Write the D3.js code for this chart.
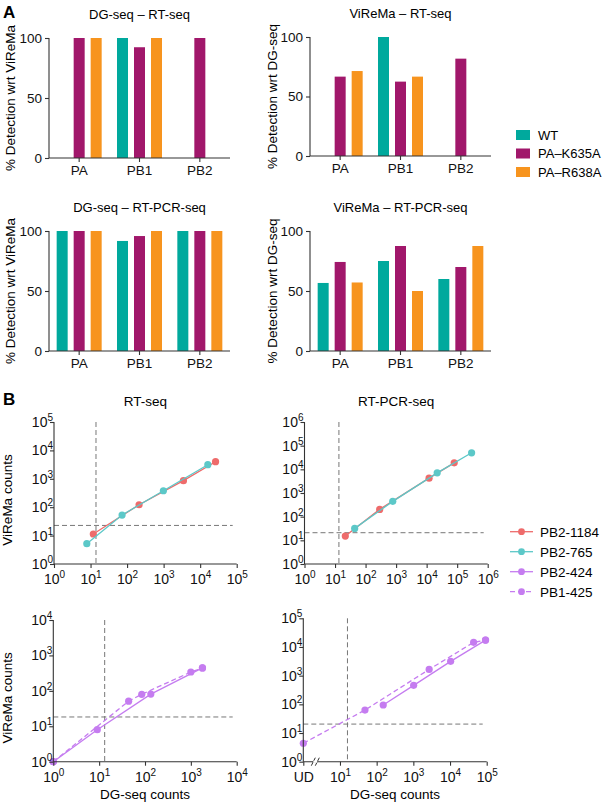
<!DOCTYPE html>
<html><head><meta charset="utf-8">
<script src="https://cdn.jsdelivr.net/npm/d3@7"></script>
<style>
body{margin:0;background:#fff;}
svg{font-family:"Liberation Sans",Arial,Helvetica,sans-serif;}
</style></head>
<body>
<svg id="c" width="602" height="805"></svg>
<script>
// ---------- DATA ----------
const segments = ["PA","PB1","PB2"];
const mutants = ["WT","PA–K635A","PA–R638A"];
const barColors = ["#00A99D","#A1176B","#F7941E"];
// values[segment][mutant]; null = no bar
const dgRtSeq      = [[null,100,100],[100,92.3,100],[null,100,null]];
const viremaRtSeq  = [[null,66.7,71.4],[100,62.5,66.7],[null,81.8,null]];
const dgRtPcrSeq   = [[100,100,100],[91.7,95.8,100],[100,100,100]];
const viremaRtPcr  = [[56.7,74.2,57.1],[75,87.5,50],[60,70,87.5]];
const barTicks = [0,50,100];

const rtSeq1184 = [[11.9,11.4],[213,122],[3490,860],[26400,4000]];
const rtSeq765  = [[7.9,5.2],[73,53],[985,380],[16200,3140]];
const pcr1184   = [[21.7,15.2],[290,203],[12000,4240],[80000,18800]];
const pcr765    = [[44,32],[776,443],[22200,7100],[297000,50000]];
const rt424     = [[1,1],[9.1,8],[134,81],[1790,443]];
const rt425     = [[1,1],[44,51],[85,80],[1000,340],[1790,443]];
const pcr424    = [[151,95],[1020,460],[10400,3150],[93000,17400]];
const pcr425    = [[1,4.4],[48,63],[2700,1650],[44000,14500],[93000,17400]]; // x=1 is "UD"
const seriesNames = ["PB2-1184","PB2-765","PB2-424","PB1-425"];
const seriesColors = ["#EE6B6B","#5CC8C8","#C57CF0","#C57CF0"];
const thresholds = {rt:[14.1,22.8], pcr:[13.4,21], rt2:[13.2,18.3], pcr2:[16,20.5]};

// ---------- DRAW ----------
const svg = d3.select("#c");
const axisCol = "#333";
const F = 13.5;

function styleAxis(g){
  g.selectAll("path,line").attr("stroke",axisCol).attr("stroke-width",1.1);
  g.selectAll("text").attr("fill","#111").attr("font-size",F).attr("font-family","inherit");
}

function barPanel(data, title, ylab, x0, x1, y100, y0, ylabX){
  const x = d3.scaleBand().domain(segments).range([x0,x1]);
  const y = d3.scaleLinear().domain([0,100]).range([y0,y100]);
  const g = svg.append("g");
  const offs = [-17,0,17], bw = 11;
  segments.forEach((s,i)=>{
    data[i].forEach((v,j)=>{
      if(v==null) return;
      const cx = x(s)+x.bandwidth()/2+offs[j];
      g.append("rect").attr("x",cx-bw/2).attr("y",y(v)).attr("width",bw)
        .attr("height",y(0)-y(v)).attr("fill",barColors[j]);
    });
  });
  const ya = g.append("g").attr("transform",`translate(${x0},0)`)
    .call(d3.axisLeft(y).tickValues(barTicks).tickSize(4).tickPadding(3));
  ya.select(".domain").attr("d",`M-0,${y100}V${y0}`);
  styleAxis(ya);
  const xa = g.append("g").attr("transform",`translate(0,${y0})`)
    .call(d3.axisBottom(x).tickSize(4).tickPadding(3));
  xa.select(".domain").attr("d",`M${x0},0H${x1}`);
  styleAxis(xa);
  g.append("text").attr("x",(x0+x1)/2).attr("y",y100-19).attr("text-anchor","middle")
    .attr("font-size",13).text(title);
  g.append("text").attr("transform",`translate(${ylabX},${(y0+y100)/2}) rotate(-90)`)
    .attr("text-anchor","middle").attr("font-size",F).text(ylab);
}

barPanel(dgRtSeq,"DG-seq – RT-seq","% Detection wrt ViReMa",49,230,38,158,15);
barPanel(viremaRtSeq,"ViReMa – RT-seq","% Detection wrt DG-seq",310,491,37,156,277);
barPanel(dgRtPcrSeq,"DG-seq – RT-PCR-seq","% Detection wrt ViReMa",49,230,231,351,15);
barPanel(viremaRtPcr,"ViReMa – RT-PCR-seq","% Detection wrt DG-seq",310,491,231,351,277);

// legend A
mutants.forEach((m,i)=>{
  svg.append("rect").attr("x",516).attr("y",130+i*18.5).attr("width",14).attr("height",10).attr("fill",barColors[i]);
  svg.append("text").attr("x",538).attr("y",139.5+i*18.5).attr("font-size",13).text(m);
});

svg.append("text").attr("x",3).attr("y",18).attr("font-size",17).attr("font-weight","bold").text("A");
svg.append("text").attr("x",3).attr("y",405).attr("font-size",17).attr("font-weight","bold").text("B");

function logLabels(sel, axisType, udFirst){
  sel.selectAll(".tick text").each(function(d){
    const t = d3.select(this);
    t.text(null);
    if(udFirst && d===1){ t.text("UD"); return; }
    const e = Math.round(Math.log10(d));
    t.append("tspan").text("10");
    t.append("tspan").attr("font-size",10).attr("dy",-6).text(e);
  });
}

function scatterPanel(opts){
  const {xmax,ymax,x0,x1,yb,yt,series,thr,title,xlab,ylab,ud} = opts;
  const x = d3.scaleLog().domain([1,xmax]).range([x0,x1]);
  const y = d3.scaleLog().domain([1,ymax]).range([yb,yt]);
  const g = svg.append("g");
  const xt = d3.range(0,Math.log10(xmax)+1).map(e=>Math.pow(10,e));
  const yt_ = d3.range(0,Math.log10(ymax)+1).map(e=>Math.pow(10,e));
  // threshold lines
  g.append("line").attr("x1",x(thr[0])).attr("x2",x(thr[0])).attr("y1",yt).attr("y2",yb)
    .attr("stroke","#777").attr("stroke-dasharray","5,3").attr("stroke-width",1);
  g.append("line").attr("x1",x0).attr("x2",x1-4).attr("y1",y(thr[1])).attr("y2",y(thr[1]))
    .attr("stroke","#777").attr("stroke-dasharray","5,3").attr("stroke-width",1);
  // series
  series.forEach(s=>{
    const line = d3.line().x(d=>x(d[0])).y(d=>y(d[1]));
    g.append("path").datum(s.data).attr("d",line).attr("fill","none").attr("stroke",s.color)
      .attr("stroke-width",1.3).attr("stroke-dasharray",s.dash?"5,3":null);
    g.selectAll(null).data(s.data).join("circle").attr("cx",d=>x(d[0])).attr("cy",d=>y(d[1]))
      .attr("r",3.6).attr("fill",s.color);
  });
  const ya = g.append("g").attr("transform",`translate(${x0},0)`)
    .call(d3.axisLeft(y).tickValues(yt_).tickSize(4).tickPadding(2));
  ya.select(".domain").attr("d",`M0,${yt}V${yb}`);
  styleAxis(ya);
  logLabels(ya,"y",false);
  ya.selectAll(".tick text").attr("font-size",14).attr("dy","0.32em").attr("x",-1);
  const xa = g.append("g").attr("transform",`translate(0,${yb})`)
    .call(d3.axisBottom(x).tickValues(xt).tickSize(4).tickPadding(2));
  xa.select(".domain").attr("d",`M${x0},0H${x1}`);
  styleAxis(xa);
  logLabels(xa,"x",ud);
  xa.selectAll(".tick text").attr("font-size",14).attr("dy","1em");
  if(ud){
    // axis break marks
    [0,4].forEach(o=>{
      g.append("line").attr("x1",x0+8+o).attr("x2",x0+12+o).attr("y1",yb+4).attr("y2",yb-4)
        .attr("stroke",axisCol).attr("stroke-width",1);
    });
    g.append("rect").attr("x",x0+10).attr("y",yb-1).attr("width",4).attr("height",2).attr("fill","#fff");
  }
  if(title) g.append("text").attr("x",(x0+x1)/2).attr("y",yt-16).attr("text-anchor","middle")
    .attr("font-size",13.5).text(title);
  if(xlab) g.append("text").attr("x",(x0+x1)/2).attr("y",yb+37).attr("text-anchor","middle")
    .attr("font-size",F).text(xlab);
  if(ylab) g.append("text").attr("transform",`translate(12,${(yt+yb)/2+7}) rotate(-90)`)
    .attr("text-anchor","middle").attr("font-size",F).text(ylab);
}

scatterPanel({xmax:1e5,ymax:1e5,x0:54,x1:236.7,yb:564,yt:422,thr:thresholds.rt,title:"RT-seq",ylab:"ViReMa counts",
  series:[{data:rtSeq1184,color:seriesColors[0]},{data:rtSeq765,color:seriesColors[1]}]});
scatterPanel({xmax:1e6,ymax:1e6,x0:304.5,x1:487.7,yb:564,yt:422,thr:thresholds.pcr,title:"RT-PCR-seq",
  series:[{data:pcr1184,color:seriesColors[0]},{data:pcr765,color:seriesColors[1]}]});
scatterPanel({xmax:1e4,ymax:1e4,x0:53.3,x1:236.7,yb:761.7,yt:620,thr:thresholds.rt2,xlab:"DG-seq counts",ylab:"ViReMa counts",
  series:[{data:rt424,color:seriesColors[2]},{data:rt425,color:seriesColors[3],dash:true}]});
scatterPanel({xmax:1e5,ymax:1e5,x0:303.3,x1:486.7,yb:761.7,yt:618.3,thr:thresholds.pcr2,xlab:"DG-seq counts",ud:true,
  series:[{data:pcr424,color:seriesColors[2]},{data:pcr425,color:seriesColors[3],dash:true}]});

// legend B
seriesNames.forEach((n,i)=>{
  const yy = 531.7+i*20;
  svg.append("line").attr("x1",510).attr("x2",533).attr("y1",yy).attr("y2",yy)
    .attr("stroke",seriesColors[i]).attr("stroke-width",1.3).attr("stroke-dasharray",i===3?"5,3":null);
  svg.append("circle").attr("cx",521.5).attr("cy",yy).attr("r",3.4).attr("fill",seriesColors[i]);
  svg.append("text").attr("x",540).attr("y",yy+5).attr("font-size",13.5).text(n);
});
</script>
</body></html>
